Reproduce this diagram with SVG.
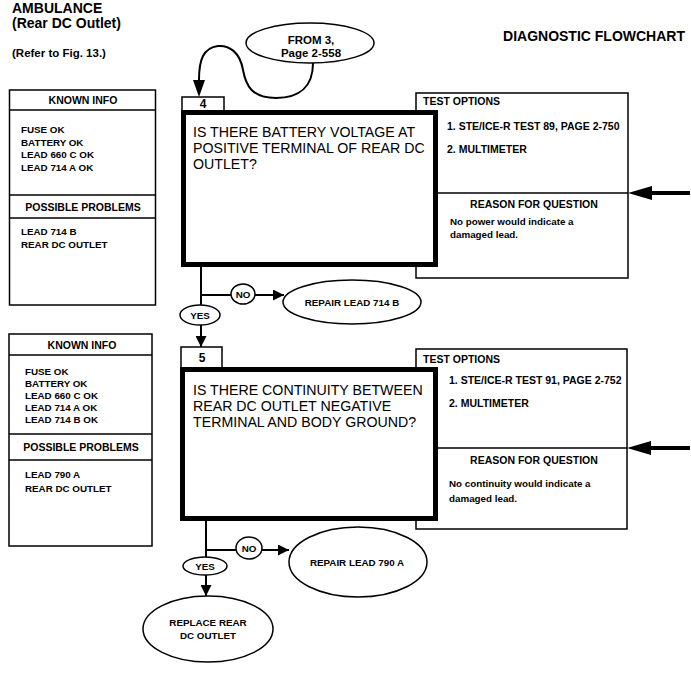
<svg xmlns="http://www.w3.org/2000/svg" width="691" height="680" viewBox="0 0 691 680">
<style>
text{font-family:"Liberation Sans",Arial,sans-serif;fill:#000}
.b{font-weight:bold}
.t{font-size:14px;font-weight:bold}
.h{font-size:10.5px;font-weight:bold}
.s{font-size:9.8px;font-weight:bold}
.q{font-size:14.2px}
.m{text-anchor:middle}
.thin{fill:#fff;stroke:#000;stroke-width:1.5}
.thick{fill:#fff;stroke:#000;stroke-width:5}
.ln{fill:none;stroke:#000;stroke-width:1.5}
.ln2{fill:none;stroke:#000;stroke-width:2}
</style>
<defs>
<marker id="ahb" viewBox="0 0 10 10" refX="10" refY="5" markerWidth="15" markerHeight="11" markerUnits="userSpaceOnUse" orient="auto">
<path d="M0,0 L10,5 L0,10 z" fill="#000"/>
</marker>
</defs>
<rect width="691" height="680" fill="#fff"/>

<g id="header">
<text class="t" x="12" y="13">AMBULANCE</text>
<text class="t" x="12" y="28">(Rear DC Outlet)</text>
<text class="b" x="12" y="57" font-size="11.5">(Refer to Fig. 13.)</text>
<text class="t" x="685" y="41" text-anchor="end">DIAGNOSTIC FLOWCHART</text>
</g>

<g id="connectors">
<path class="ln2" d="M313,63 C313,86 300,98 276,98 C252,98 246,86 243,70 C240,52 229,45 218,46 C203,48 199,60 199,80" />
<path d="M193,80 L205,80 L199,97 z" fill="#000"/>
<line class="ln2" x1="201" y1="267" x2="201" y2="305"/>
<line class="ln2" x1="201" y1="295" x2="231" y2="295"/>
<line class="ln2" x1="255" y1="295" x2="284" y2="295" marker-end="url(#ahb)"/>
<line class="ln2" x1="201" y1="325" x2="201" y2="347" marker-end="url(#ahb)"/>
<line class="ln2" x1="206" y1="521" x2="206" y2="557"/>
<line class="ln2" x1="206" y1="550" x2="236" y2="550"/>
<line class="ln2" x1="262" y1="550" x2="289" y2="550" marker-end="url(#ahb)"/>
<line class="ln2" x1="206" y1="575" x2="206" y2="596" marker-end="url(#ahb)"/>
<line stroke="#000" stroke-width="4" x1="690" y1="193" x2="648" y2="193"/>
<path d="M628,193 L652,186 L652,200 z" fill="#000"/>
<line stroke="#000" stroke-width="4" x1="690" y1="448" x2="648" y2="448"/>
<path d="M627,448 L651,441 L651,455 z" fill="#000"/>
</g>

<g id="from3">
<ellipse class="thin" cx="310" cy="43" rx="64" ry="20" stroke-width="2"/>
<text class="b m" x="311" y="44" font-size="11.5">FROM 3,</text>
<text class="b m" x="311" y="57" font-size="11.5">Page 2-558</text>
</g>

<g id="known1">
<rect class="thin" x="9.5" y="90" width="146" height="215"/>
<line class="ln" x1="9.5" y1="110" x2="155.5" y2="110"/>
<line class="ln" x1="9.5" y1="195" x2="155.5" y2="195"/>
<line class="ln" x1="9.5" y1="218" x2="155.5" y2="218"/>
<text class="h m" x="83" y="104">KNOWN INFO</text>
<text class="s" x="21" y="133">FUSE OK</text>
<text class="s" x="21" y="145.5">BATTERY OK</text>
<text class="s" x="21" y="158">LEAD 660 C OK</text>
<text class="s" x="21" y="170.5">LEAD 714 A OK</text>
<text class="h m" x="83" y="211">POSSIBLE PROBLEMS</text>
<text class="s" x="21" y="235">LEAD 714 B</text>
<text class="s" x="21" y="248">REAR DC OUTLET</text>
</g>

<g id="test1">
<rect class="thin" x="416" y="93" width="212" height="185"/>
<line class="ln" x1="436" y1="193" x2="628" y2="193"/>
<text class="h" x="423" y="105">TEST OPTIONS</text>
<text class="h" x="447" y="130">1. STE/ICE-R TEST 89, PAGE 2-750</text>
<text class="h" x="447" y="153">2. MULTIMETER</text>
<text class="h m" x="534" y="208">REASON FOR QUESTION</text>
<text class="s" x="450" y="225">No power would indicate a</text>
<text class="s" x="450" y="238">damaged lead.</text>
</g>

<g id="step4">
<rect class="thin" x="182" y="97" width="42" height="14"/>
<text class="b m" x="203" y="108" font-size="12">4</text>
<rect class="thick" x="183.5" y="112.5" width="252" height="152"/>
<text class="q" x="193" y="137">IS THERE BATTERY VOLTAGE AT</text>
<text class="q" x="193" y="153">POSITIVE TERMINAL OF REAR DC</text>
<text class="q" x="193" y="169">OUTLET?</text>
</g>

<g id="no1">
<ellipse class="thin" cx="243" cy="294" rx="12" ry="10" stroke-width="2"/>
<text class="s m" x="243" y="298">NO</text>
</g>
<g id="repair714">
<ellipse class="thin" cx="352" cy="302" rx="69" ry="22" stroke-width="2"/>
<text class="s m" x="352" y="306">REPAIR LEAD 714 B</text>
</g>
<g id="yes1">
<ellipse class="thin" cx="200" cy="315" rx="20" ry="10" stroke-width="2"/>
<text class="s m" x="200" y="319">YES</text>
</g>

<g id="known2">
<rect class="thin" x="9" y="334" width="143" height="212"/>
<line class="ln" x1="9" y1="355" x2="152" y2="355"/>
<line class="ln" x1="9" y1="434" x2="152" y2="434"/>
<line class="ln" x1="9" y1="460" x2="152" y2="460"/>
<text class="h m" x="82" y="349">KNOWN INFO</text>
<text class="s" x="25" y="375">FUSE OK</text>
<text class="s" x="25" y="387">BATTERY OK</text>
<text class="s" x="25" y="399">LEAD 660 C OK</text>
<text class="s" x="25" y="411">LEAD 714 A OK</text>
<text class="s" x="25" y="423">LEAD 714 B OK</text>
<text class="h m" x="81" y="451">POSSIBLE PROBLEMS</text>
<text class="s" x="25" y="478">LEAD 790 A</text>
<text class="s" x="25" y="492">REAR DC OUTLET</text>
</g>

<g id="test2">
<rect class="thin" x="416" y="349" width="211" height="180"/>
<line class="ln" x1="436" y1="448" x2="627" y2="448"/>
<text class="h" x="423" y="363">TEST OPTIONS</text>
<text class="h" x="449" y="384">1. STE/ICE-R TEST 91, PAGE 2-752</text>
<text class="h" x="449" y="407">2. MULTIMETER</text>
<text class="h m" x="534" y="464">REASON FOR QUESTION</text>
<text class="s" x="449" y="487">No continuity would indicate a</text>
<text class="s" x="449" y="502">damaged lead.</text>
</g>

<g id="step5">
<rect class="thin" x="181" y="347" width="41" height="21"/>
<text class="b m" x="202" y="362" font-size="12">5</text>
<rect class="thick" x="182.5" y="369.5" width="253" height="149"/>
<text class="q" x="193" y="395">IS THERE CONTINUITY BETWEEN</text>
<text class="q" x="193" y="411">REAR DC OUTLET NEGATIVE</text>
<text class="q" x="193" y="427">TERMINAL AND BODY GROUND?</text>
</g>

<g id="no2">
<ellipse class="thin" cx="249" cy="548" rx="13" ry="11" stroke-width="2"/>
<text class="s m" x="249" y="552">NO</text>
</g>
<g id="repair790">
<ellipse class="thin" cx="358" cy="562" rx="69" ry="35" stroke-width="2"/>
<text class="s m" x="357" y="566">REPAIR LEAD 790 A</text>
</g>
<g id="yes2">
<ellipse class="thin" cx="205" cy="566" rx="22" ry="9" stroke-width="2"/>
<text class="s m" x="205" y="570">YES</text>
</g>
<g id="replace">
<ellipse class="thin" cx="208" cy="629" rx="65" ry="33" stroke-width="2"/>
<text class="s m" x="208" y="626">REPLACE REAR</text>
<text class="s m" x="208" y="639">DC OUTLET</text>
</g>
</svg>
